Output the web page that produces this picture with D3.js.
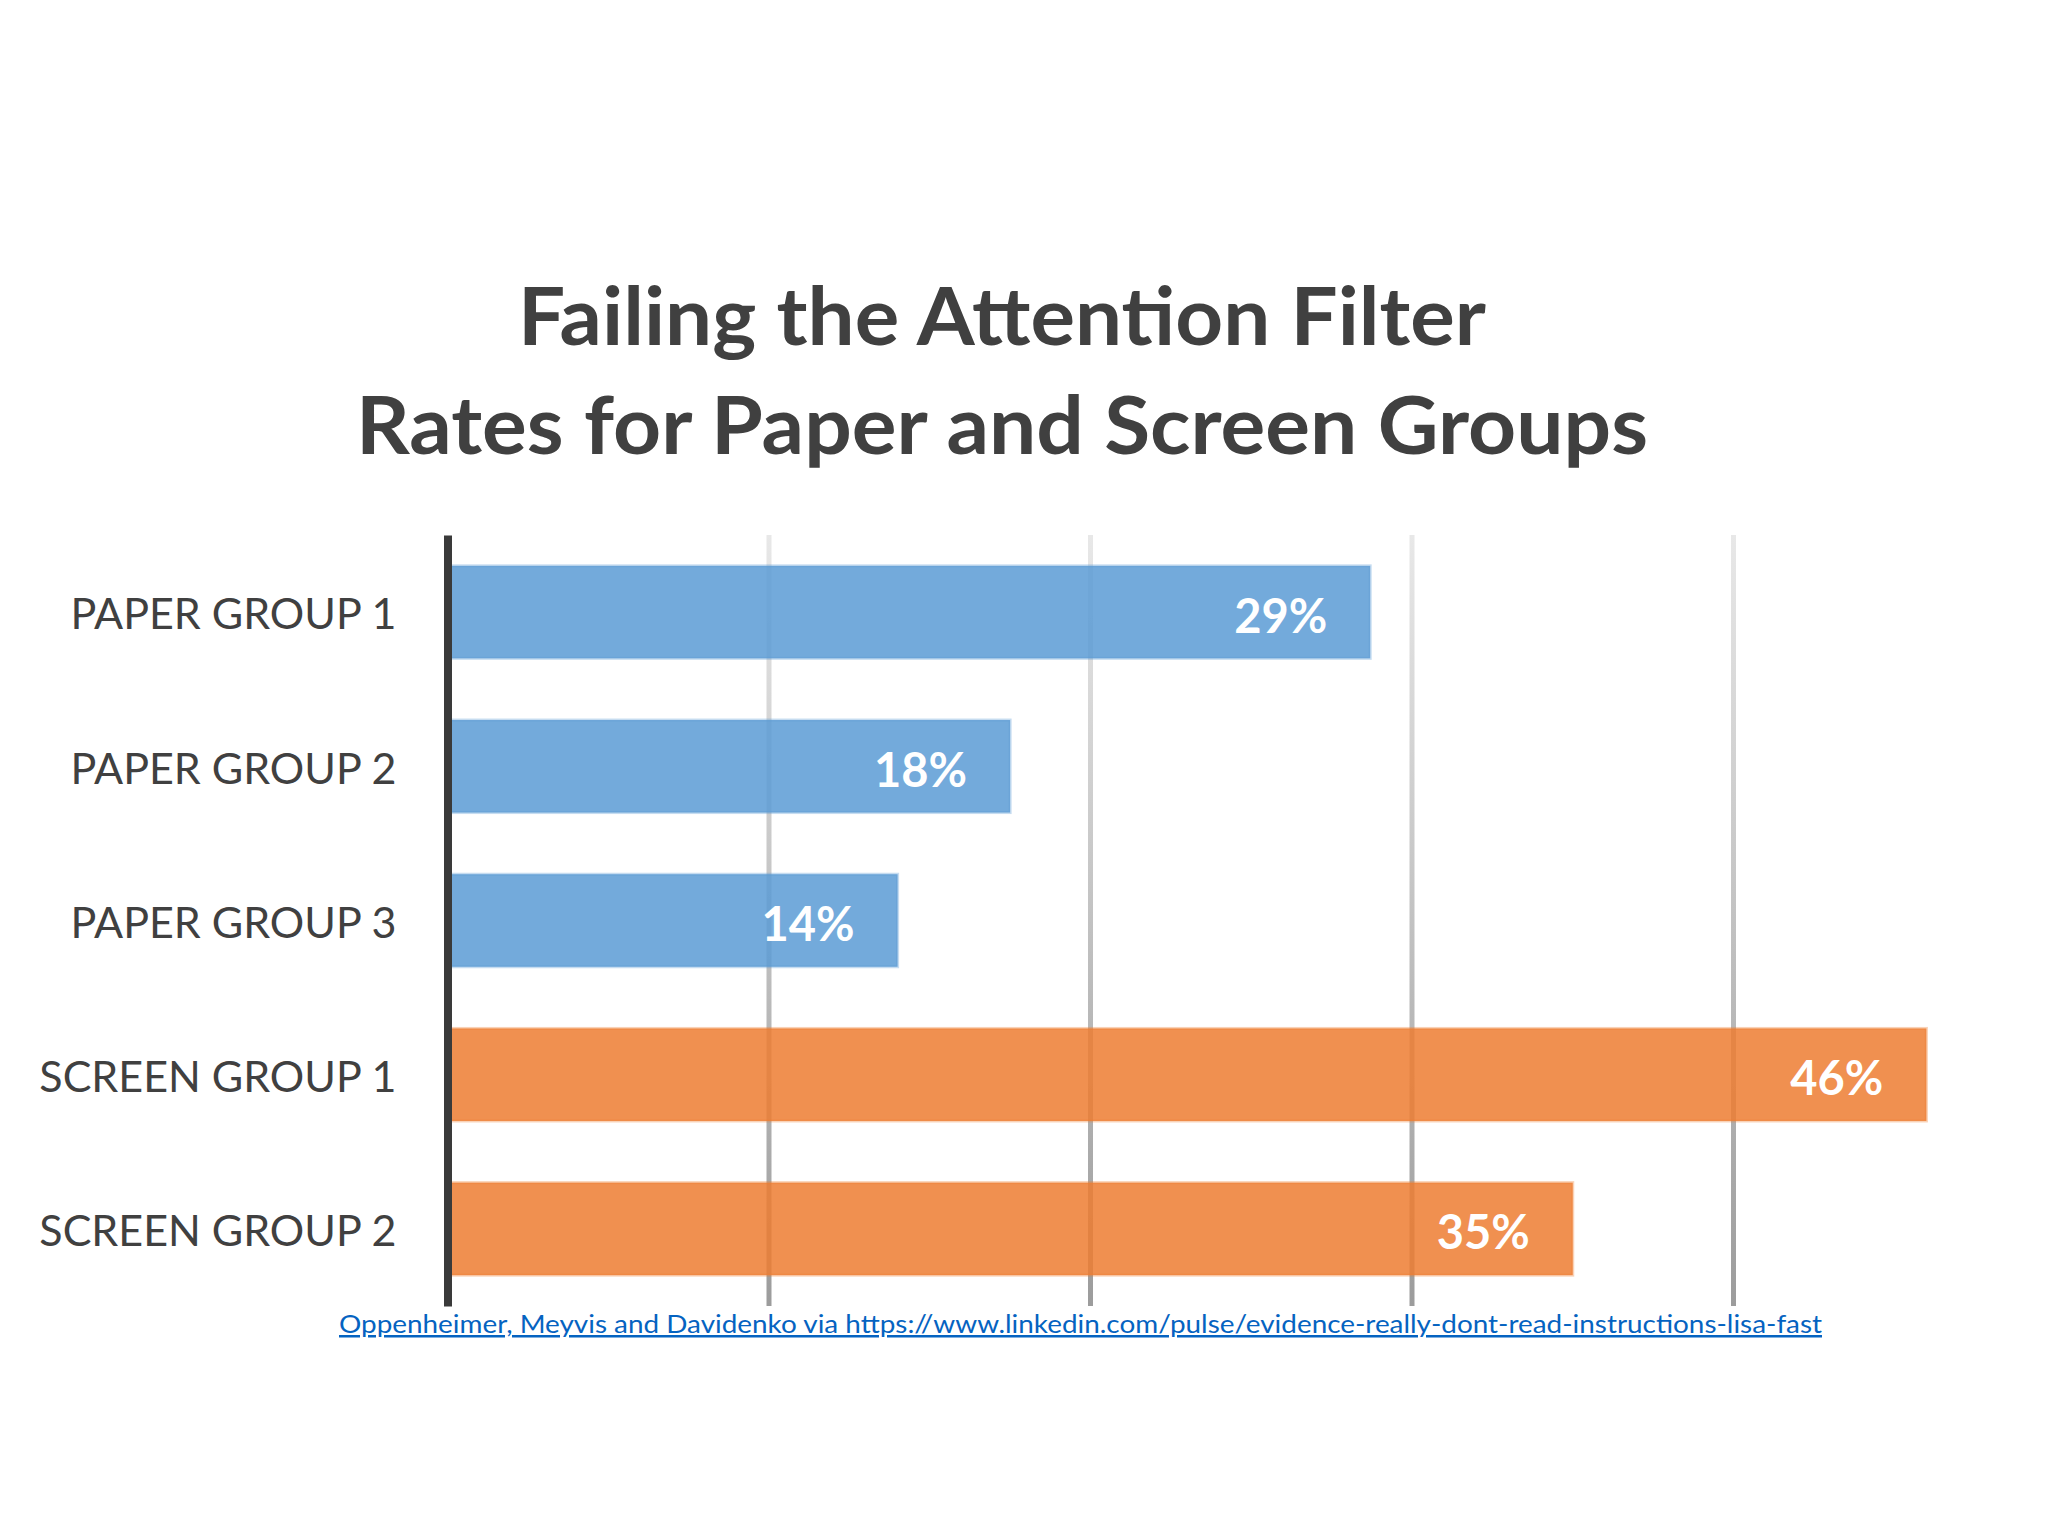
<!DOCTYPE html>
<html>
<head>
<meta charset="utf-8">
<script src="https://cdn.jsdelivr.net/npm/d3@7"></script>
<style>
    body { margin: 0; background: #ffffff; }
    svg { display: block; }
</style>
</head>
<body>
<div id="chart"></div>
<script>
// data
const categories = ["PAPER GROUP 1", "PAPER GROUP 2", "PAPER GROUP 3", "SCREEN GROUP 1", "SCREEN GROUP 2"];
const rates = [28.7, 17.5, 14.0, 46.0, 35.0];
const groups = ["paper", "paper", "paper", "screen", "screen"];
const gridTicks = [10, 20, 30, 40];
const titleLines = ["Failing the Attention Filter", "Rates for Paper and Screen Groups"];
const sourceText = "Oppenheimer, Meyvis and Davidenko via https://www.linkedin.com/pulse/evidence-really-dont-read-instructions-lisa-fast";

function main() {
    const width = 2048;
    const height = 1536;

    const svg = d3.select("#chart")
        .append("svg")
        .attr("width", width)
        .attr("height", height);

    // gradient for the grid lines, lighter at the top
    const defs = svg.append("defs");
    const grad = defs.append("linearGradient")
        .attr("id", "gridGrad")
        .attr("x1", 0).attr("y1", 0)
        .attr("x2", 0).attr("y2", 1);
    grad.append("stop").attr("offset", "0%").attr("stop-color", "#e8e8e8");
    grad.append("stop").attr("offset", "100%").attr("stop-color", "#9c9c9c");

    const x = d3.scaleLinear()
        .domain([0, 50])
        .range([447.5, 2055]);

    const y = d3.scaleBand()
        .domain(categories)
        .range([535, 1306])
        .paddingInner(0.4)
        .paddingOuter(0.2);

    const color = d3.scaleOrdinal()
        .domain(["paper", "screen"])
        .range(["#5b9bd5", "#ed7d31"]);

    // title
    svg.append("g")
        .selectAll("text")
        .data(titleLines)
        .enter()
        .append("text")
        .attr("x", (d, i) => i === 0 ? 518 : 356)
        .attr("y", (d, i) => i === 0 ? 345 : 454)
        .attr("textLength", (d, i) => i === 0 ? 968 : 1292)
        .attr("lengthAdjust", "spacingAndGlyphs")
        .attr("font-family", "Lato, 'Open Sans', sans-serif")
        .attr("font-weight", "bold")
        .attr("font-size", 80)
        .attr("fill", "#404040")
        .text(d => d);

    // grid lines
    svg.append("g")
        .selectAll("rect")
        .data(gridTicks)
        .enter()
        .append("rect")
        .attr("x", d => x(d) - 2.5)
        .attr("y", y.range()[0])
        .attr("width", 5)
        .attr("height", y.range()[1] - y.range()[0])
        .attr("fill", "url(#gridGrad)");

    // bars
    svg.append("g")
        .selectAll("rect")
        .data(rates)
        .enter()
        .append("rect")
        .attr("x", x(0))
        .attr("y", (d, i) => y(categories[i]))
        .attr("width", d => x(d) - x(0))
        .attr("height", y.bandwidth())
        .attr("fill", (d, i) => color(groups[i]))
        .attr("fill-opacity", 0.85)
        .attr("stroke", (d, i) => color(groups[i]))
        .attr("stroke-opacity", 0.35)
        .attr("stroke-width", 3);

    // value labels
    svg.append("g")
        .selectAll("text")
        .data(rates)
        .enter()
        .append("text")
        .attr("x", d => x(d) - 43)
        .attr("y", (d, i) => y(categories[i]) + y.bandwidth() / 2 + 4)
        .attr("dy", "0.35em")
        .attr("text-anchor", "end")
        .attr("font-family", "Lato, 'Open Sans', sans-serif")
        .attr("font-weight", "bold")
        .attr("font-size", 47)
        .attr("fill", "#ffffff")
        .text(d => d3.format(".0f")(d) + "%");

    // category axis with the dark vertical line
    const yAxis = svg.append("g")
        .attr("transform", `translate(${x(0)},0)`)
        .call(d3.axisLeft(y).tickSize(0).tickPadding(51));

    yAxis.select(".domain")
        .attr("stroke", "#3a3a3a")
        .attr("stroke-width", 8);

    yAxis.selectAll(".tick text")
        .attr("font-family", "Lato, 'Open Sans', sans-serif")
        .attr("font-size", 43)
        .attr("fill", "#404040")
        .attr("dy", "0.4em");

    // source link
    svg.append("text")
        .attr("x", 339)
        .attr("y", 1333)
        .attr("textLength", 1483)
        .attr("lengthAdjust", "spacingAndGlyphs")
        .attr("font-family", "Lato, 'Open Sans', sans-serif")
        .attr("font-size", 25)
        .attr("fill", "#0563c1")
        .attr("text-decoration", "underline")
        .text(sourceText);
}

main();
</script>
</body>
</html>
